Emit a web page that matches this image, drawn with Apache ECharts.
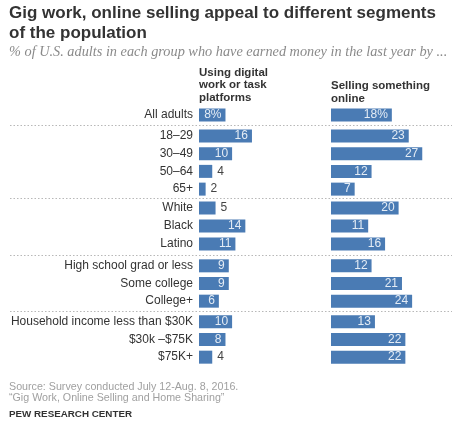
<!DOCTYPE html>
<html>
<head>
<meta charset="utf-8">
<script src="https://cdn.jsdelivr.net/npm/echarts@6/dist/echarts.min.js"></script>
<style>
  html, body { margin: 0; padding: 0; background: #fff; }
  #chart { width: 460px; height: 423px; }
</style>
</head>
<body>
<div id="chart"></div>
<script>
// 数据
const categories = [
    'All adults',
    '18–29', '30–49', '50–64', '65+',
    'White', 'Black', 'Latino',
    'High school grad or less', 'Some college', 'College+',
    'Household income less than $30K', '$30k –$75K', '$75K+'
];
const groupSizes = [1, 4, 3, 3, 3];
const digitalWork = [8, 16, 10, 4, 2, 5, 14, 11, 9, 9, 6, 10, 8, 4];
const sellingOnline = [18, 23, 27, 12, 7, 20, 11, 16, 12, 21, 24, 13, 22, 22];
const colTitles = ['Using digital\nwork or task\nplatforms', 'Selling something\nonline'];

// 布局参数
const groupTops = [106, 127, 199, 257, 313];
const groupHeights = [18, 71, 54, 53, 53];
const colLeft = [199, 331];
const colWidth = [99.3, 101.4];
const barColor = '#4a7bb4';

const chart = echarts.init(document.getElementById('chart'));

const grids = [], xAxes = [], yAxes = [], series = [];
let start = 0;
groupSizes.forEach((n, g) => {
    const cats = categories.slice(start, start + n);
    [digitalWork, sellingOnline].forEach((vals, c) => {
        const idx = grids.length;
        grids.push({
            left: colLeft[c], width: colWidth[c],
            top: groupTops[g], height: groupHeights[g]
        });
        xAxes.push({ type: 'value', gridIndex: idx, min: 0, max: 30, show: false });
        yAxes.push({
            type: 'category', gridIndex: idx, data: cats, inverse: true,
            axisLine: { show: false }, axisTick: { show: false },
            axisLabel: {
                show: c === 0, margin: 6, fontSize: 12, color: '#333',
                fontFamily: 'Liberation Sans'
            }
        });
        series.push({
            type: 'bar', xAxisIndex: idx, yAxisIndex: idx,
            barWidth: 13, silent: true,
            itemStyle: { color: barColor },
            data: vals.slice(start, start + n).map((v, i) => {
                const inside = v >= 6;
                return {
                    value: v,
                    label: {
                        show: true,
                        position: inside ? 'insideRight' : 'right',
                        distance: inside ? 4 : 5,
                        color: inside ? '#e4ecf5' : '#444',
                        fontSize: 12,
                        fontFamily: 'Liberation Sans',
                        formatter: (start + i === 0) ? '{c}%' : '{c}'
                    }
                };
            })
        });
    });
    start += n;
});

// 分隔线
const sepY = [125.5, 198.5, 255.5, 311.5];
const graphics = sepY.map(y => ({
    type: 'line', shape: { x1: 10, y1: y, x2: 452, y2: y },
    style: { stroke: '#b8b8b8', lineWidth: 1.2, lineDash: [1.5, 2] }
}));

graphics.push(
    { type: 'text', left: 9, top: 4, style: {
        text: 'Gig work, online selling appeal to different segments\nof the population',
        font: 'bold 17px "Liberation Sans"', fill: '#333', lineHeight: 19.5 } },
    { type: 'text', left: 9, top: 45.5, style: {
        text: '% of U.S. adults in each group who have earned money in the last year by ...',
        font: 'italic 14.3px "Liberation Serif"', fill: '#8a8a8a' } },
    { type: 'text', left: colLeft[0], top: 66.5, style: {
        text: colTitles[0], font: 'bold 11.5px "Liberation Sans"', fill: '#333', lineHeight: 12.4 } },
    { type: 'text', left: colLeft[1], top: 80, style: {
        text: colTitles[1], font: 'bold 11.5px "Liberation Sans"', fill: '#333', lineHeight: 12.4 } },
    { type: 'text', left: 9, top: 381, style: {
        text: 'Source: Survey conducted July 12-Aug. 8, 2016.\n“Gig Work, Online Selling and Home Sharing”',
        font: '10.7px "Liberation Sans"', fill: '#a0a0a0', lineHeight: 11.5 } },
    { type: 'text', left: 9, top: 409, style: {
        text: 'PEW RESEARCH CENTER', font: 'bold 9.8px "Liberation Sans"', fill: '#333' } }
);

chart.setOption({
    animation: false,
    grid: grids,
    xAxis: xAxes,
    yAxis: yAxes,
    series: series,
    graphic: graphics
});
</script>
</body>
</html>
